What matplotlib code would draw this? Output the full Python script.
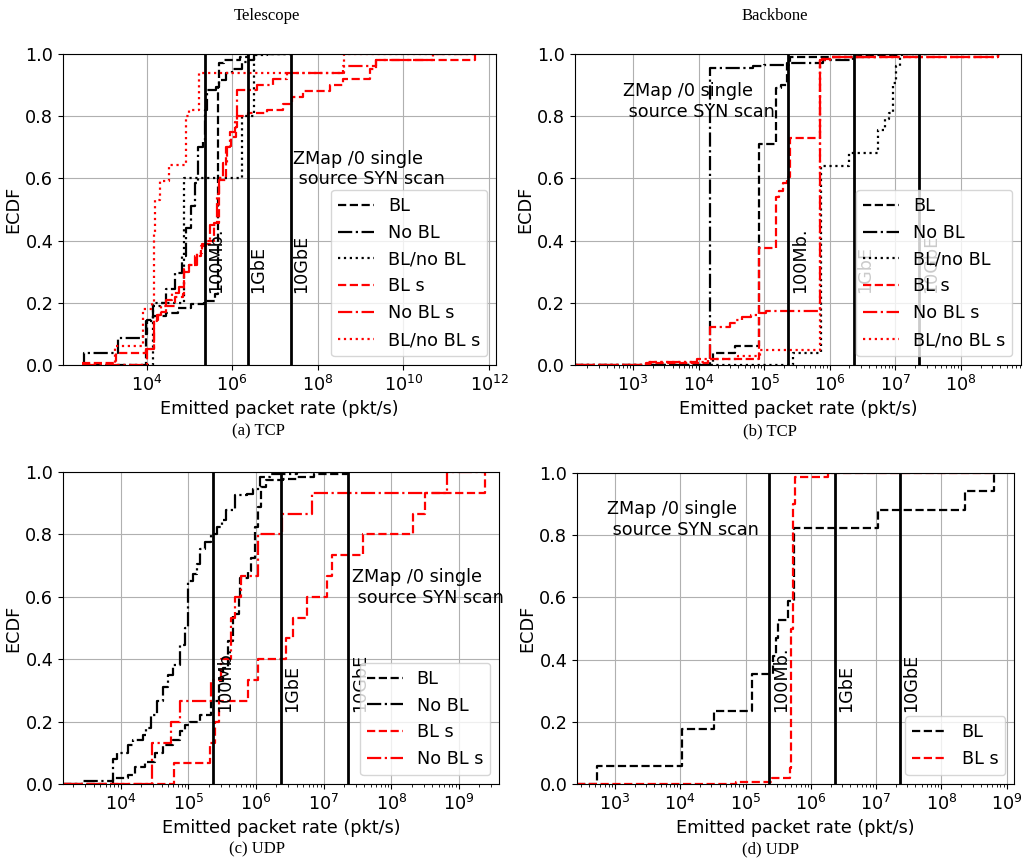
import matplotlib
matplotlib.use('Agg')
import matplotlib.pyplot as plt

plt.rcParams['font.size'] = 12.7

# (a) Telescope TCP
a_bl_x = [316, 9550, 1.0e4, 1.38e4, 2.82e4, 5.37e4, 1.1e5, 2.19e5, 3.89e5, 4.57e5, 4.9e5, 6.31e5, 1.51e6, 2.34e6, 2.4e7]
a_bl_y = [0, 0.10, 0.146, 0.157, 0.168, 0.184, 0.195, 0.205, 0.227, 0.895, 0.97, 0.98, 0.99, 1.0, 1.0]
a_nobl_x = [316, 347, 2188, 8318, 9550, 1.38e4, 2.0e4, 2.82e4, 4.47e4, 6.61e4, 8.32e4, 1.1e5, 1.32e5, 1.55e5, 2.04e5,
            2.34e5, 2.63e5, 4.17e5, 4.9e5, 7.08e5, 1.0e6, 1.7e6, 2.34e6, 3.16e6, 6.31e6, 2.4e7]
a_nobl_y = [0, 0.037, 0.086, 0.10, 0.14, 0.19, 0.2, 0.243, 0.297, 0.35, 0.44, 0.51, 0.584, 0.70, 0.723,
            0.82, 0.885, 0.895, 0.916, 0.94, 0.95, 0.975, 0.98, 0.997, 1.0, 1.0]
a_mix_x = [316, 1.38e4, 7.41e4, 1.7e6, 3.16e6, 2.4e7]
a_mix_y = [0, 0.2, 0.6, 0.8, 1.0, 1.0]
a_bls_x = [316, 1905, 9550, 1.45e4, 1.8e4, 2.1e4, 2.82e4, 4.47e4, 6.92e4, 7.41e4, 9.5e4, 1.32e5, 1.86e5, 2.4e5, 3.8e5,
           4.9e5, 7.08e5, 9.1e5, 1.2e6, 1.32e6, 2.34e6, 6.31e6, 1.55e7, 2.45e7, 4.57e7, 1.91e8, 3.89e8, 1.62e9, 2.34e9, 4.7e11]
a_bls_y = [0.005, 0.038, 0.05, 0.146, 0.16, 0.17, 0.19, 0.22, 0.227, 0.31, 0.32, 0.35, 0.384, 0.4, 0.455,
           0.595, 0.70, 0.734, 0.766, 0.8, 0.81, 0.82, 0.84, 0.86, 0.88, 0.9, 0.92, 0.95, 0.98, 1.0]
a_nobls_x = [316, 1.0e4, 1.45e4, 1.7e4, 2.2e4, 2.8e4, 4.0e4, 5.6e4, 7.4e4, 1.0e5, 1.5e5, 2.0e5, 3.0e5, 4.3e5, 5.0e5,
             6.0e5, 7.4e5, 8.7e5, 1.15e6, 1.32e6, 3.72e6, 9.1e6, 1.86e7, 3.89e8, 2.34e9, 5.0e10, 4.7e11]
a_nobls_y = [0, 0.05, 0.14, 0.16, 0.19, 0.21, 0.23, 0.25, 0.3, 0.32, 0.36, 0.39, 0.45, 0.55, 0.6,
             0.65, 0.7, 0.75, 0.78, 0.885, 0.9, 0.92, 0.94, 0.96, 0.98, 1.0, 1.0]
a_mixs_x = [316, 1820, 8318, 1.32e4, 1.45e4, 1.6e4, 2.04e4, 3.31e4, 8.32e4, 1.0e5, 1.66e5, 3.98e8, 4.7e11]
a_mixs_y = [0, 0.06, 0.18, 0.2, 0.42, 0.53, 0.59, 0.643, 0.8, 0.82, 0.94, 1.0, 1.0]

# (b) Backbone TCP
b_bl_x = [130, 1.66e4, 3.55e4, 8.3e4, 1.51e5, 1.82e5, 2.19e5, 2.45e5, 2.24e6, 1.26e7, 3.0e7]
b_bl_y = [0, 0.037, 0.06, 0.71, 0.89, 0.9, 0.97, 0.99, 0.995, 1.0, 1.0]
b_nobl_x = [130, 1.48e4, 6.76e4, 1.0e5, 2.51e5, 7.94e5, 2.24e6, 5.0e6, 3.0e7]
b_nobl_y = [0, 0.955, 0.96, 0.965, 0.97, 0.98, 0.99, 1.0, 1.0]
b_mix_x = [130, 2.75e5, 7.4e5, 2.0e6, 5.4e6, 6.9e6, 8.1e6, 9.1e6, 1.02e7, 1.17e7, 3.0e7]
b_mix_y = [0, 0.04, 0.64, 0.68, 0.755, 0.79, 0.81, 0.905, 0.96, 1.0, 1.0]
b_bls_x = [130, 1585, 1.4e4, 8.3e4, 1.51e5, 1.66e5, 1.9e5, 2.19e5, 2.45e5, 7.1e5, 7.6e5, 1.0e6, 3.72e8, 4.0e8]
b_bls_y = [0, 0.005, 0.02, 0.375, 0.54, 0.56, 0.585, 0.605, 0.73, 0.98, 0.985, 0.99, 1.0, 1.0]
b_nobls_x = [130, 1778, 9333, 1.48e4, 2.95e4, 3.7e4, 4.5e4, 6.3e4, 8.3e4, 1.07e5, 7.1e5, 7.6e5, 1.0e6, 3.72e8, 4.0e8]
b_nobls_y = [0, 0.01, 0.02, 0.123, 0.135, 0.145, 0.155, 0.16, 0.166, 0.172, 0.98, 0.985, 0.99, 1.0, 1.0]
b_mixs_x = [130, 1585, 1.38e4, 3.98e4, 8.5e4, 7.1e5, 1.0e6, 3.72e8, 4.0e8]
b_mixs_y = [0, 0.008, 0.02, 0.03, 0.047, 0.98, 0.99, 1.0, 1.0]

# (c) Telescope UDP
c_bl_x = [1400, 7586, 1.29e4, 1.62e4, 2.29e4, 3.16e4, 4.27e4, 5.89e4, 7.41e4, 8.91e4, 1.05e5, 1.48e5, 2.19e5, 2.88e5, 3.24e5,
          3.89e5, 4.57e5, 5.5e5, 5.75e5, 7.59e5, 8.51e5, 9.55e5, 1.07e6, 1.2e6, 1.41e6, 2.51e6, 3.98e6, 7.08e6, 2.19e7, 2.4e7]
c_bl_y = [0, 0.02, 0.03, 0.056, 0.072, 0.1, 0.125, 0.14, 0.17, 0.19, 0.2, 0.222, 0.265, 0.33, 0.372,
          0.458, 0.544, 0.603, 0.662, 0.683, 0.726, 0.823, 0.887, 0.952, 0.973, 0.979, 0.984, 0.995, 1.0, 1.0]
c_nobl_x = [1400, 2754, 7586, 8710, 1.29e4, 1.51e4, 2.14e4, 2.4e4, 2.82e4, 3.39e4, 4.27e4, 5.01e4, 5.89e4, 7.41e4, 8.91e4,
            1.0e5, 1.17e5, 1.32e5, 1.48e5, 1.74e5, 2.19e5, 2.63e5, 3.09e5, 3.63e5, 4.9e5, 7.24e5, 9.12e5, 1.15e6, 1.58e6, 3.98e6, 2.4e7]
c_nobl_y = [0, 0.01, 0.08, 0.1, 0.125, 0.14, 0.158, 0.18, 0.22, 0.265, 0.31, 0.35, 0.383, 0.447, 0.5,
            0.65, 0.673, 0.705, 0.753, 0.775, 0.8, 0.823, 0.845, 0.877, 0.925, 0.93, 0.946, 0.984, 0.995, 1.0, 1.0]
c_bls_x = [1400, 6.03e4, 2.09e5, 2.45e5, 2.88e5, 7.6e5, 1.07e6, 2.8e6, 3.55e6, 5.6e6, 1.12e7, 1.32e7, 3.8e7, 2.09e8, 3.16e8, 2.4e9]
c_bls_y = [0, 0.067, 0.133, 0.2, 0.267, 0.333, 0.4, 0.467, 0.533, 0.6, 0.667, 0.733, 0.8, 0.867, 0.933, 1.0]
c_nobls_x = [1400, 2.88e4, 5.62e4, 7.41e4, 2.19e5, 3.0e5, 4.27e5, 4.8e5, 5.9e5, 1.05e6, 2.4e6, 6.61e6, 6.61e8, 2.4e9]
c_nobls_y = [0, 0.133, 0.2, 0.267, 0.333, 0.4, 0.533, 0.6, 0.667, 0.8, 0.867, 0.933, 1.0, 1.0]

# (d) Backbone UDP
d_bl_x = [260, 537, 1.07e4, 3.31e4, 1.26e5, 2.63e5, 2.95e5, 3.16e5, 4.47e5, 5.5e5, 1.05e7, 2.29e8, 6.31e8]
d_bl_y = [0, 0.059, 0.176, 0.235, 0.353, 0.412, 0.471, 0.529, 0.588, 0.824, 0.882, 0.941, 1.0]
d_bls_x = [260, 7.24e4, 1.26e5, 2.51e5, 4.79e5, 5.01e5, 5.25e5, 5.62e5, 1.86e6, 6.31e8]
d_bls_y = [0, 0.005, 0.008, 0.018, 0.05, 0.5, 0.9, 0.988, 1.0, 1.0]

link_rates = [2.31e5, 2.31e6, 2.31e7]
link_labels = ['100Mb.', '1GbE', '10GbE']

styles = {
    'BL': ('black', '--'),
    'No BL': ('black', '-.'),
    'BL/no BL': ('black', ':'),
    'BL s': ('red', '--'),
    'No BL s': ('red', '-.'),
    'BL/no BL s': ('red', ':'),
}

fig = plt.figure(figsize=(10.28, 8.63), dpi=100)


def draw_panel(rect, curves, xlim, note_xy):
    ax = fig.add_axes(rect)
    for label, xs, ys in curves:
        color, ls = styles[label]
        ax.plot(xs, ys, color=color, linestyle=ls, drawstyle='steps-post', lw=1.6, label=label)
    for rate, txt in zip(link_rates, link_labels):
        ax.axvline(rate, color='black', lw=2)
        ax.text(rate * 1.1, 0.23, txt, rotation=90, ha='left', va='bottom')
    ax.text(note_xy[0], note_xy[1], 'ZMap /0 single\n source SYN scan', ha='left', va='center')
    ax.set_xscale('log')
    ax.set_xlim(xlim)
    ax.set_ylim(0, 1)
    ax.grid(True)
    ax.set_xlabel('Emitted packet rate (pkt/s)')
    ax.set_ylabel('ECDF', labelpad=2)
    ax.legend(loc='lower right')
    return ax


draw_panel([0.0613, 0.5771, 0.4212, 0.3604],
           [('BL', a_bl_x, a_bl_y), ('No BL', a_nobl_x, a_nobl_y), ('BL/no BL', a_mix_x, a_mix_y),
            ('BL s', a_bls_x, a_bls_y), ('No BL s', a_nobls_x, a_nobls_y), ('BL/no BL s', a_mixs_x, a_mixs_y)],
           (111, 1.45e12), (2.6e7, 0.63))
draw_panel([0.5593, 0.5771, 0.4339, 0.3604],
           [('BL', b_bl_x, b_bl_y), ('No BL', b_nobl_x, b_nobl_y), ('BL/no BL', b_mix_x, b_mix_y),
            ('BL s', b_bls_x, b_bls_y), ('No BL s', b_nobls_x, b_nobls_y), ('BL/no BL s', b_mixs_x, b_mixs_y)],
           (129, 8.3e8), (708, 0.848))
draw_panel([0.0613, 0.0915, 0.4241, 0.3615],
           [('BL', c_bl_x, c_bl_y), ('No BL', c_nobl_x, c_nobl_y),
            ('BL s', c_bls_x, c_bls_y), ('No BL s', c_nobls_x, c_nobls_y)],
           (1400, 3.9e9), (2.6e7, 0.63))
draw_panel([0.5613, 0.0915, 0.4251, 0.3604],
           [('BL', d_bl_x, d_bl_y), ('BL s', d_bls_x, d_bls_y)],
           (263, 1.29e9), (745, 0.85))

serif = 'Liberation Serif'
fig.text(0.2597, 0.982, 'Telescope', family=serif, fontsize=12, ha='center', va='center')
fig.text(0.7539, 0.982, 'Backbone', family=serif, fontsize=12, ha='center', va='center')
fig.text(0.251, 0.5006, '(a) TCP', family=serif, fontsize=12, ha='center', va='center')
fig.text(0.749, 0.5006, '(b) TCP', family=serif, fontsize=12, ha='center', va='center')
fig.text(0.25, 0.0162, '(c) UDP', family=serif, fontsize=12, ha='center', va='center')
fig.text(0.75, 0.0162, '(d) UDP', family=serif, fontsize=12, ha='center', va='center')

fig.savefig('out.png', dpi=100)
